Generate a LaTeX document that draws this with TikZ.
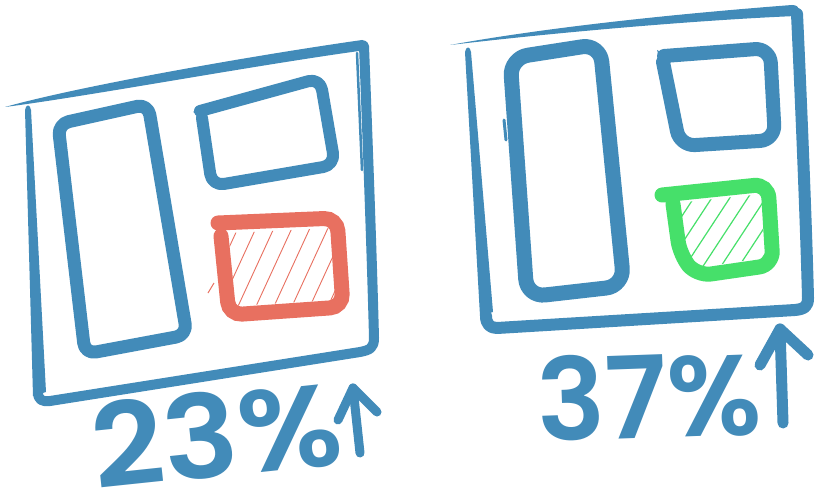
\documentclass[tikz,border=0pt]{standalone}
\usepackage{fontspec}
\setmainfont{Poppins}
\newfontfamily\hand{Poppins SemiBold}
\definecolor{bl}{HTML}{428BB9}
\definecolor{rd}{HTML}{E87060}
\definecolor{gr}{HTML}{46E06A}
\tikzset{
  sk/.style={draw=bl, line width=10pt, line cap=round, line join=round},
  hatchred/.style={draw=rd, line width=0.9pt},
  hatchgr/.style={draw=gr, line width=1.2pt},
  big/.style={text=bl, inner sep=0pt}
}
\begin{document}
\begin{tikzpicture}[x=1pt,y=-1pt]
\useasboundingbox (0,0) rectangle (821,500);
\fill[white] (0,0) rectangle (821,500);

% ===== left frame =====
\fill[bl] (5,107) .. controls (80,86) and (250,56) .. (362,40) .. controls (368,40) and (370,46) .. (366,50) .. controls (250,66) and (90,96) .. (5,107) -- cycle;
\draw[sk] (364,46) .. controls (368,150) and (372,260) .. (374,338) .. controls (374,348) and (370,350) .. (360,352) -- (50,401) .. controls (42,402) and (38,400) .. (38,392);
\fill[bl] (25,110) .. controls (26,104) and (30,104) .. (31,110) -- (46,392) -- (33,396) -- cycle;
\draw[bl, line width=2.5pt, line cap=round] (357,53) -- (362,170);

% inner left box
\draw[sk, line width=13pt, rounded corners=11pt] (58,124) -- (148,104) -- (187,335) -- (85,354) -- cycle;
% inner top-right box
\fill[bl] (193,112) -- (205,104) -- (206,118) -- cycle;
\draw[sk, line width=12pt, rounded corners=12pt] (200,111) -- (320,78) -- (335,165) -- (212,186) -- (202,118);
% red box
\begin{scope}
  \clip (229,233) -- (333,228) -- (336,300) -- (232,306) -- cycle;
  \foreach \i in {0,...,9} {
    \draw[hatchred] (180+18*\i,315) -- (226+18*\i,215);
  }
\end{scope}
\draw[draw=rd, line width=15pt, line cap=round, line join=miter, rounded corners=13pt] (218,223) -- (337,218) -- (343,307) -- (229,315) -- (221,236);
\draw[rd, line width=1pt] (208,293) -- (214,283);

% ===== right frame =====
\fill[bl] (450,45) .. controls (560,25) and (700,12) .. (792,5) .. controls (800,5) and (802,12) .. (796,16) .. controls (700,20) and (560,32) .. (450,45) -- cycle;
\draw[sk, line width=12pt] (797,14) .. controls (801,100) and (806,220) .. (808,298) .. controls (808,306) and (805,309) .. (795,310) -- (497,328) .. controls (490,328) and (486,324) .. (486,316);
\fill[bl] (465,52) .. controls (466,46) and (470,46) .. (471,52) -- (493,312) -- (480,316) -- cycle;

% inner left box
\draw[sk, line width=15pt, rounded corners=18pt] (510,58) -- (600,44) -- (624,286) -- (527,297) -- cycle;
\draw[bl, line width=3pt, line cap=round] (504,120) -- (506,140);
% inner top-right box
\fill[bl] (657,50) -- (668,56) -- (664,75) -- cycle;
\draw[sk, line width=14pt, rounded corners=15pt] (664,56) -- (770,48) -- (775,140) -- (680,146) -- (663,62);
% green box
\begin{scope}
  \clip (676,203) -- (762,194) -- (764,258) -- (700,267) -- (684,255) -- cycle;
  \foreach \i in {0,...,8} {
    \draw[hatchgr] (640+18*\i,280) -- (699+18*\i,190);
  }
\end{scope}
\draw[draw=gr, line width=15pt, line cap=round, line join=miter, rounded corners=14pt] (662,195) -- (768,184) -- (773,265) -- (697,276) -- (680,255) -- (673,204);

% ===== arrows =====
\coordinate (a1b) at (360,453);
\coordinate (a1t) at (353,388);
\coordinate (a1l) at (338,420);
\coordinate (a1r) at (377,412);
\draw[sk, line width=9pt] (a1b) -- (a1t);
\draw[sk, line width=9pt] (a1l) -- (a1t) -- (a1r);
\coordinate (a2b) at (783,423);
\coordinate (a2t) at (780,329);
\coordinate (a2l) at (760,365);
\coordinate (a2r) at (808,355);
\draw[sk, line width=11pt] (a2b) -- (a2t);
\draw[sk, line width=11pt] (a2l) -- (a2t) -- (a2r);

% ===== texts =====
\node[big, rotate=6, xscale=1.08, anchor=base west, font=\hand\fontsize{116}{116}\selectfont] (t1) at (96,490) {23\%};
\node[big, rotate=2, anchor=base west, font=\hand\fontsize{114}{114}\selectfont] (t2) at (538,442) {37\%};
\end{tikzpicture}
\end{document}
